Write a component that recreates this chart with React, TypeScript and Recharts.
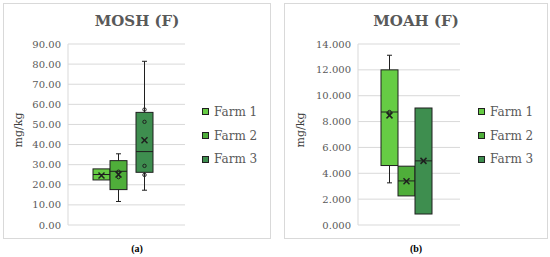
import React from 'react'
import { BarChart, Bar, XAxis, YAxis, CartesianGrid, Legend } from 'recharts'

const FARMS = ['Farm 1', 'Farm 2', 'Farm 3']
const COLORS = ['#66cc44', '#4fae3a', '#3e8e4f']
const FONT = '"DejaVu Serif", serif'
const INK = '#1f1f1f'

// MOSH (F), mg/kg
const moshMin = [22.4, 11.7, 17.3]
const moshQ1 = [22.4, 17.6, 26.2]
const moshMedian = [25.1, 26.7, 36.5]
const moshQ3 = [27.9, 32.0, 56.0]
const moshMax = [27.9, 35.4, 81.4]
const moshMean = [24.6, 25.1, 42.1]
const moshPoints = [[], [26.5, 23.8], [57.4, 51.3, 29.4, 24.9]]
const moshTicks = [0, 10, 20, 30, 40, 50, 60, 70, 80, 90]

// MOAH (F), mg/kg
const moahMin = [3.26, 2.25, 0.85]
const moahQ1 = [4.6, 2.25, 0.85]
const moahMedian = [8.74, 3.41, 4.96]
const moahQ3 = [12.0, 4.55, 9.05]
const moahMax = [13.13, 4.55, 9.05]
const moahMean = [8.48, 3.38, 4.96]
const moahPoints = [[8.74], [], []]
const moahTicks = [0, 2, 4, 6, 8, 10, 12, 14]

type Stats = {
  min: number[]
  q1: number[]
  median: number[]
  q3: number[]
  max: number[]
  mean: number[]
  points: number[][]
}

const mosh: Stats = { min: moshMin, q1: moshQ1, median: moshMedian, q3: moshQ3, max: moshMax, mean: moshMean, points: moshPoints }
const moah: Stats = { min: moahMin, q1: moahQ1, median: moahMedian, q3: moahQ3, max: moahMax, mean: moahMean, points: moahPoints }

const toRow = (s: Stats) => {
  const row: Record<string, any> = { name: 'F' }
  FARMS.forEach((_, i) => { row[`f${i}`] = [s.q1[i], s.q3[i]] })
  return [row]
}

// box + whiskers + median + mean + inner points, scaled from the bar the library placed
const boxShape = (s: Stats, i: number) => (props: any) => {
  const { x, y, width, height, fill } = props
  const top = Math.min(y, y + height)
  const h = Math.abs(height)
  const k = h / (s.q3[i] - s.q1[i])
  const py = (v: number) => top + (s.q3[i] - v) * k
  const cx = x + width / 2
  const my = py(s.mean[i])
  return (
    <g>
      {s.max[i] > s.q3[i] && (
        <g stroke={INK} strokeWidth={1}>
          <line x1={cx} x2={cx} y1={py(s.max[i])} y2={top} />
          <line x1={cx - 2.5} x2={cx + 2.5} y1={py(s.max[i])} y2={py(s.max[i])} />
        </g>
      )}
      {s.min[i] < s.q1[i] && (
        <g stroke={INK} strokeWidth={1}>
          <line x1={cx} x2={cx} y1={top + h} y2={py(s.min[i])} />
          <line x1={cx - 2.5} x2={cx + 2.5} y1={py(s.min[i])} y2={py(s.min[i])} />
        </g>
      )}
      <rect x={x} y={top} width={width} height={h} fill={fill} stroke={INK} strokeWidth={1} />
      <line x1={x} x2={x + width} y1={py(s.median[i])} y2={py(s.median[i])} stroke={INK} strokeWidth={1} />
      {s.points[i].map((p, j) => (
        <circle key={j} cx={cx} cy={py(p)} r={1.7} fill="none" stroke={INK} strokeWidth={1} />
      ))}
      <g stroke={INK} strokeWidth={1.5}>
        <line x1={cx - 3} x2={cx + 3} y1={my - 3} y2={my + 3} />
        <line x1={cx - 3} x2={cx + 3} y1={my + 3} y2={my - 3} />
      </g>
    </g>
  )
}

const renderLegend = (props: any) => (
  <div style={{ fontFamily: FONT, fontSize: 12, color: '#595959' }}>
    {(props.payload || []).filter((p: any) => FARMS.includes(p.value)).map((p: any) => (
      <div key={p.value} style={{ display: 'flex', alignItems: 'center', height: 23.7 }}>
        <span style={{ width: 7, height: 7, boxSizing: 'border-box', background: p.color, border: `1px solid ${INK}`, marginRight: 5 }} />
        <span>{p.value}</span>
      </div>
    ))}
  </div>
)

type PanelProps = {
  left: number
  width: number
  title: string
  caption: string
  stats: Stats
  ticks: number[]
  digits: number
  yAxisWidth: number
  marginRight: number
  padRight: number
  gapAfter?: number
  labelX: number
  legendLeft: number
}

function BoxPanel(p: PanelProps) {
  const chartW = p.width - 2
  const bars: React.ReactNode[] = []
  FARMS.forEach((farm, i) => {
    bars.push(
      <Bar key={farm} dataKey={`f${i}`} name={farm} fill={COLORS[i]} barSize={17}
        isAnimationActive={false} shape={boxShape(p.stats, i)} />
    )
    if (p.gapAfter === i) {
      bars.push(<Bar key="gap" dataKey="gap" name="gap" barSize={9} fill="none" legendType="none" isAnimationActive={false} />)
    }
  })
  return (
    <>
      <div style={{ position: 'absolute', left: p.left, top: 3, width: p.width, height: 236, boxSizing: 'border-box', border: '1px solid #d9d9d9' }}>
        <div style={{ position: 'absolute', left: 0, top: 8, width: '100%', textAlign: 'center', fontFamily: FONT, fontWeight: 'bold', fontSize: 15, lineHeight: '18px', color: '#595959' }}>
          {p.title}
        </div>
        <BarChart width={chartW} height={234} data={toRow(p.stats)} barGap={0}
          margin={{ top: 40, right: p.marginRight, bottom: 13, left: 0 }}>
          <CartesianGrid vertical={false} stroke="#d9d9d9" />
          <XAxis dataKey="name" hide padding={{ left: 0, right: p.padRight }} />
          <YAxis domain={[0, p.ticks[p.ticks.length - 1]]} ticks={p.ticks} interval={0}
            tickFormatter={(v: number) => v.toFixed(p.digits)} width={p.yAxisWidth}
            tickSize={0} tickMargin={7} tickLine={false} axisLine={{ stroke: '#d9d9d9' }}
            tick={{ fill: '#595959', fontSize: 10, fontFamily: FONT }}
            label={{
              content: (lp: any) => {
                const vb = lp.viewBox || { x: 0, y: 40, height: 181 }
                const lx = vb.x + p.labelX
                const ly = vb.y + vb.height / 2 - 4.5
                return (
                  <text x={lx} y={ly} transform={`rotate(-90 ${lx} ${ly})`} textAnchor="middle"
                    dominantBaseline="central" fontFamily={FONT} fontSize={11} fill="#404040">
                    mg/kg
                  </text>
                )
              },
            }} />
          <Legend layout="vertical" align="center" verticalAlign="middle" content={renderLegend}
            wrapperStyle={{ left: p.legendLeft, top: 96, right: 'auto', bottom: 'auto', width: 70 }} />
          {bars}
        </BarChart>
      </div>
      <div style={{ position: 'absolute', left: p.left, top: 243, width: p.width, textAlign: 'center', fontFamily: '"Liberation Serif", serif', fontWeight: 'bold', fontSize: 10, lineHeight: '12px', color: '#000' }}>
        {p.caption}
      </div>
    </>
  )
}

export default function App() {
  return (
    <div style={{ position: 'absolute', left: 0, top: 0, width: 550, height: 257, background: '#fff', overflow: 'hidden' }}>
      <BoxPanel left={3} width={268} title="MOSH (F)" caption="(a)" stats={mosh} ticks={moshTicks}
        digits={2} yAxisWidth={64} marginRight={85} padRight={8} gapAfter={1} labelX={14} legendLeft={198} />
      <BoxPanel left={284} width={264} title="MOAH (F)" caption="(b)" stats={moah} ticks={moahTicks}
        digits={3} yAxisWidth={73} marginRight={87} padRight={5} labelX={15} legendLeft={193} />
    </div>
  )
}
